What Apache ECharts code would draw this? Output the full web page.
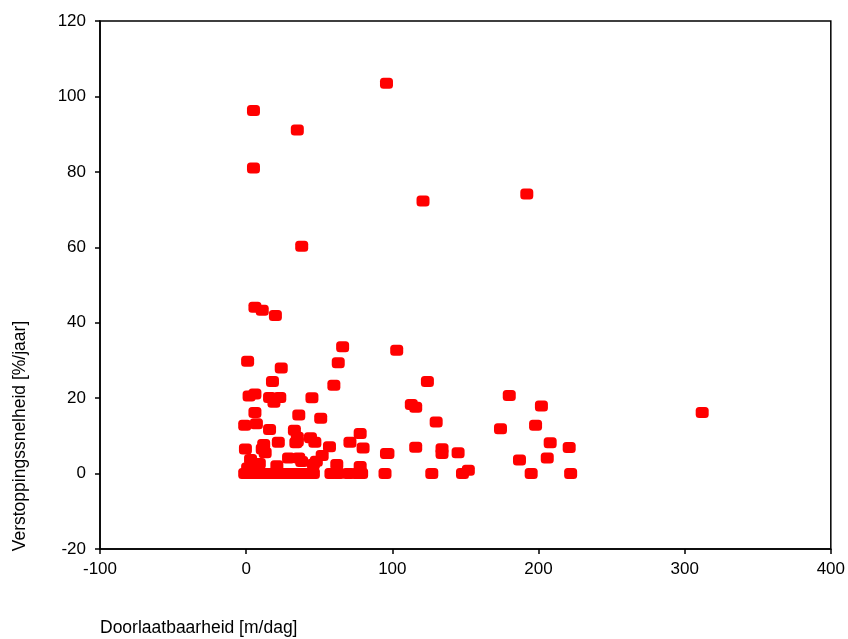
<!DOCTYPE html>
<html>
<head>
<meta charset="utf-8">
<script src="https://cdn.jsdelivr.net/npm/echarts@6/dist/echarts.min.js"></script>
<style>
  html, body { margin: 0; padding: 0; background: #fff; }
  #chart { width: 848px; height: 639px; }
</style>
</head>
<body>
<div id="chart"></div>
<script>
// Permeability (m/day) of each measured well
const doorlaatbaarheid = [
  96, 5, 35, 5, 121, 192, 38, 6, 11, 20,
  66, 1, 63, 24, 18, 60, 2, 6, 16, 23, 19, 45, 6, 36, 51, -1, 7, 16, 33,
  22, 35, 34, 35, 44, 47, 78, 71, 80, 57, -0.5, 12, 11, 13, 52, 96,
  3, 9, 29, 36, 38, 48, 46, 21, 62, 78, 1, 4,
  -1, 1, 3, 5, 7, 9, 11, 13, 16, 19, 22, 25, 28, 31, 34, 37, 40, 43, 46,
  58, 63, 70, 76, 79, 95,
  103, 124, 113, 116, 130, 116, 97, 134, 134, 145, 127, 148, 152,
  180, 202, 174, 198, 208, 221, 187, 206, 195, 222,
  312
];

// Clogging rate (%/year) of the same wells
const verstoppingssnelheid = [
  103.5, 96.3, 91.1, 81, 72.3, 74.1, 60.3, 44.1, 43.3, 41.9,
  33.6, 29.8, 29.4, 28, 24.4, 23.4, 20.6, 21.1, 20.2, 20.2, 18.9, 20.1, 16.2, 15.5, 14.7, 12.8, 13.2, 11.7, 11.5,
  8.3, 9.6, 8.2, 8.6, 9.5, 8.3, 10.6, 8.3, 6.8, 7.1, 6.5, 7.7, 6.5, 5.5, 4.8, 5.3,
  3.7, 2.7, 4.1, 4.1, 3.2, 3.3, 2.5, 2.1, 2.4, 1.9, 1.5, 0.5,
  0, 0, 0, 0, 0, 0, 0, 0, 0, 0, 0, 0, 0, 0, 0, 0, 0, 0, 0,
  0, 0, 0, 0, 0, 0,
  32.7, 24.4, 18.3, 17.6, 13.7, 7, 5.3, 6.6, 5.3, 5.5, 0, 0, 0.9,
  20.7, 17.9, 11.9, 12.8, 8.2, 6.9, 3.6, 4.1, 0, 0,
  16.2
];

const xTicks = { min: -100, max: 400, interval: 100 };
const yTicks = { min: -20, max: 120, interval: 20 };

const xAxisTitle = 'Doorlaatbaarheid [m/dag]';
const yAxisTitle = 'Verstoppingssnelheid [%/jaar]';

const points = doorlaatbaarheid.map((x, i) => [x, verstoppingssnelheid[i]]);

// Soft rounded-rectangle marker
const markerPath = 'path://M3.5,0 H9.5 Q13,0 13,3.5 V7.5 Q13,11 9.5,11 H3.5 Q0,11 0,7.5 V3.5 Q0,0 3.5,0 Z';

const font = '"Liberation Sans", Arial, sans-serif';
const chart = echarts.init(document.getElementById('chart'), null, { renderer: 'canvas' });

const axisCommon = {
  type: 'value',
  splitLine: { show: false },
  axisLine: { show: true, onZero: false, lineStyle: { color: '#000', width: 1.5 } },
  axisTick: { show: true, inside: false, length: 5, lineStyle: { color: '#000', width: 1.5 } },
  axisLabel: { color: '#000', fontFamily: font, fontSize: 17 }
};

chart.setOption({
  animation: false,
  backgroundColor: '#fff',
  grid: {
    left: 100, right: 16, top: 21, bottom: 90,
    show: true, borderColor: '#000', borderWidth: 1.5, backgroundColor: 'transparent'
  },
  xAxis: Object.assign({}, axisCommon, {
    min: xTicks.min, max: xTicks.max, interval: xTicks.interval,
    axisLabel: Object.assign({}, axisCommon.axisLabel, { margin: 12 })
  }),
  yAxis: Object.assign({}, axisCommon, {
    min: yTicks.min, max: yTicks.max, interval: yTicks.interval,
    axisLabel: Object.assign({}, axisCommon.axisLabel, { margin: 14 })
  }),
  series: [{
    type: 'scatter',
    data: points,
    symbol: markerPath,
    symbolSize: [13, 11],
    symbolKeepAspect: false,
    itemStyle: { color: '#ff0000', opacity: 1 }
  }],
  graphic: [
    {
      type: 'text', left: 100, top: 619,
      style: { text: xAxisTitle, fill: '#000', font: '17.5px ' + font }
    },
    {
      type: 'text', x: 20, y: 436, rotation: Math.PI / 2,
      style: { text: yAxisTitle, fill: '#000', font: '17.5px ' + font, textAlign: 'center', textVerticalAlign: 'middle' }
    }
  ]
});
</script>
</body>
</html>
